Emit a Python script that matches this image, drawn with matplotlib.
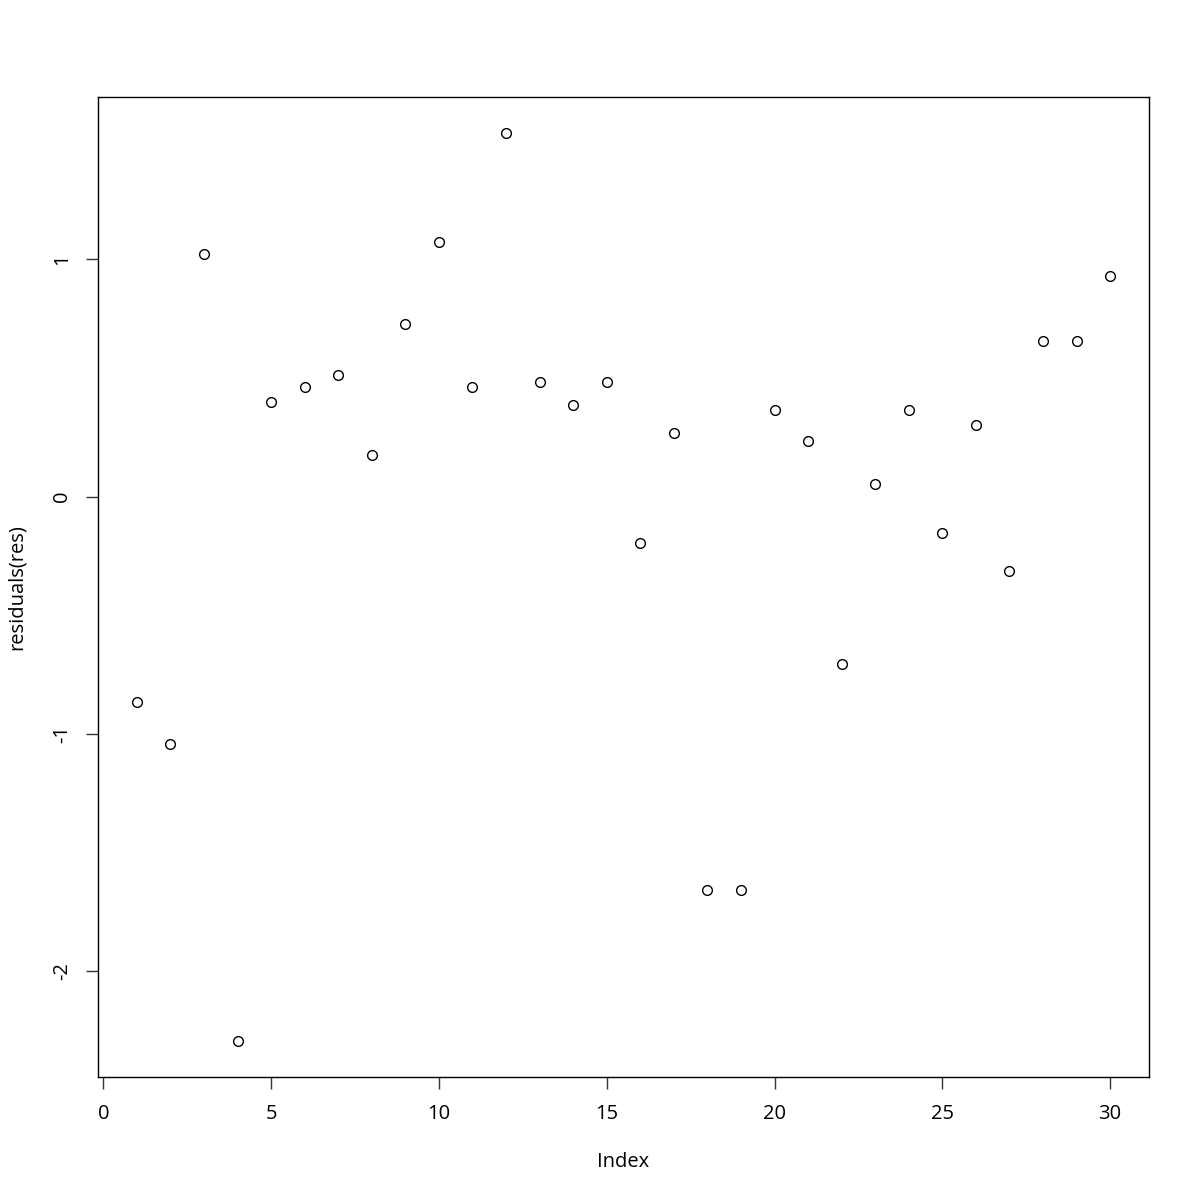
import numpy as np
import matplotlib
matplotlib.use("Agg")
import matplotlib.pyplot as plt

plt.rcParams['font.family'] = ['Open Sans', 'DejaVu Sans']

# residuals
index = np.arange(1, 31)
residuals = [-0.865, -1.042, 1.021, -2.295, 0.397, 0.460, 0.511, 0.177, 0.726, 1.072,
             0.460, 1.532, 0.485, 0.388, 0.485, -0.194, 0.266, -1.658, -1.658, 0.367,
             0.236, -0.705, 0.055, 0.367, -0.152, 0.300, -0.316, 0.654, 0.654, 0.932]
xticks = [0, 5, 10, 15, 20, 25, 30]
yticks = [-2, -1, 0, 1]

fig = plt.figure(figsize=(12, 12), dpi=100)
ax = fig.add_axes([98/1200, 123/1200, 1051/1200, 980/1200])

ax.plot(index, residuals, 'o', mfc='none', mec='black', ms=7, mew=1.0)

# R-style 4% padding
rx = (index.max() - index.min()) * 0.04
ry = (max(residuals) - min(residuals)) * 0.04
ax.set_xlim(index.min() - rx, index.max() + rx)
ax.set_ylim(min(residuals) - ry, max(residuals) + ry)

ax.set_xticks(xticks)
ax.set_yticks(yticks)
ax.set_xticklabels([str(t) for t in xticks], fontsize=14.5)
ax.set_yticklabels([str(t) for t in yticks], fontsize=14.5, rotation=90, va='center')
ax.tick_params(direction='out', length=8.6, width=1, color='#333333')
ax.tick_params(axis='x', pad=10.5)
ax.tick_params(axis='y', pad=10)
for s in ax.spines.values():
    s.set_linewidth(1)

fig.text(623/1200, 1-1162/1200, 'Index', ha='center', va='center', fontsize=14.5)
fig.text(17/1200, 1-587/1200, 'residuals(res)', ha='center', va='center', fontsize=14.5, rotation=90)

fig.savefig('out.png', dpi=100)
